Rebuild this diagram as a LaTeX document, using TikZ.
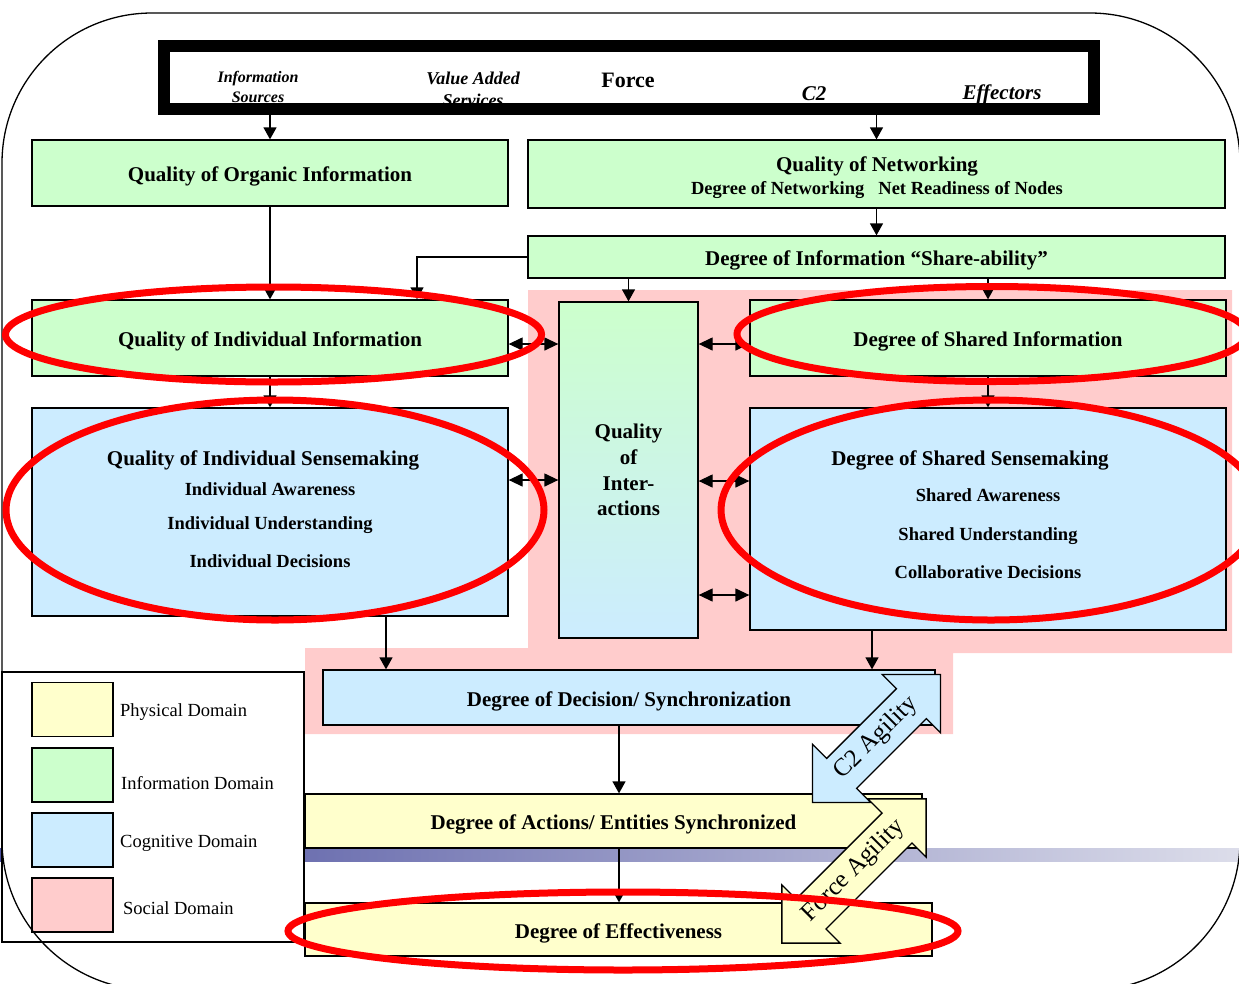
\documentclass[tikz,border=0pt]{standalone}
\usepackage{fontspec}
\setmainfont{Liberation Serif}
\usetikzlibrary{arrows.meta,shapes.arrows}

\definecolor{infogreen}{HTML}{CCFFCC}
\definecolor{cogblue}{HTML}{CCECFF}
\definecolor{physyellow}{HTML}{FFFFCC}
\definecolor{socialpink}{HTML}{FFCCCC}
\definecolor{bardark}{HTML}{4A4E9E}
\definecolor{barlight}{HTML}{DCDDEA}

\tikzset{
  box/.style={draw, line width=1.3pt, inner sep=0pt, align=center,
    font=\fontsize{21}{25.7}\selectfont\bfseries},
  linebox/.style={box, text height=18pt, text depth=1pt},
  infobox/.style={linebox, fill=infogreen},
  cogbox/.style={linebox, fill=cogblue},
  physbox/.style={linebox, fill=physyellow},
  keybox/.style={draw, line width=1.3pt, minimum width=81, minimum height=54},
  boxtitle/.style={font=\fontsize{21}{25}\selectfont\bfseries, inner sep=0pt, yshift=-2pt},
  boxsub/.style={font=\fontsize{18.5}{22}\selectfont\bfseries, inner sep=0pt, yshift=-2pt},
  keytext/.style={font=\fontsize{18.5}{22}\selectfont, anchor=west, inner sep=0pt, yshift=-2pt},
  srctext/.style={font=\bfseries\itshape, align=center, inner sep=0pt},
  flow/.style={line width=1.3pt, -{Triangle[width=13pt,length=12pt]}},
  twoway/.style={line width=1.3pt, {Triangle[width=13pt,length=14pt]}-{Triangle[width=13pt,length=14pt]}},
  agility/.style={draw, line width=1.3pt, double arrow, double arrow tip angle=90,
    double arrow head extend=20pt, rotate=45, inner xsep=0pt, inner ysep=9pt,
    text height=17pt, text depth=6pt, font=\fontsize{25}{25}\selectfont},
  ring/.style={draw=red, line width=7pt},
}

\begin{document}
\begin{tikzpicture}[x=1pt,y=-1pt]
  \clip (0,0) rectangle (1239,983);
  % social domain and the bar
  \fill[socialpink] (528,290) -- (1232,290) -- (1232,653) -- (953,653) -- (953,734)
    -- (305,734) -- (305,648) -- (528,648) -- cycle;
  \shade[left color=bardark, right color=barlight] (0,848) rectangle (1239,861);

  \node[infobox, minimum width=476, minimum height=66] (organic) at (270,173) {Quality of Organic Information};
  \node[infobox, minimum width=697, minimum height=68] (networking) at (876.5,174) {};
  \node[boxtitle] (nettitle) at (877,164) {Quality of Networking};
  \node[boxsub] (netsub) at (877,188) {Degree of Networking\hspace{14pt}Net Readiness of Nodes};
  \node[infobox, minimum width=697, minimum height=42] (share) at (876.5,257) {Degree of Information ``Share-ability''};
  \node[infobox, minimum width=476, minimum height=76] (iinfo) at (270,338) {Quality of Individual Information};
  \node[infobox, minimum width=476, minimum height=76] (sinfo) at (988,338) {Degree of Shared Information};
  \node[box, top color=infogreen, bottom color=cogblue, minimum width=139, minimum height=336] (qoi) at (628.5,470) {Quality\\of\\Inter-\\actions};

  \node[cogbox, minimum width=476, minimum height=208] (isense) at (270,512) {};
  \node[boxtitle] (isensetitle) at (263,458) {Quality of Individual Sensemaking};
  \node[boxsub] (iaware) at (270,487) {Individual Awareness};
  \node[boxsub] (iunder) at (270,523) {Individual Understanding};
  \node[boxsub] (idecide) at (270,559) {Individual Decisions};

  \node[cogbox, minimum width=476, minimum height=222] (ssense) at (988,519) {};
  \node[boxtitle] (ssensetitle) at (970,458) {Degree of Shared Sensemaking};
  \node[boxsub] (saware) at (988,493) {Shared Awareness};
  \node[boxsub] (sunder) at (988,534) {Shared Understanding};
  \node[boxsub] (sdecide) at (988,570) {Collaborative Decisions};

  \node[cogbox, minimum width=612, minimum height=55] (decision) at (629,697.5) {Degree of Decision/ Synchronization};
  \node[physbox, minimum width=617, minimum height=54] (actions) at (613.5,821) {Degree of Actions/ Entities Synchronized};
  \node[physbox, minimum width=627, minimum height=53] (effect) at (618.5,929.5) {Degree of Effectiveness};

  % legend
  \node[draw, fill=white, line width=1.3pt, minimum width=302, minimum height=270] (legend) at (153,807) {};
  \node[keybox, fill=physyellow] (physkey) at (72.5,709.5) {};
  \node[keybox, fill=infogreen] (infokey) at (72.5,775) {};
  \node[keybox, fill=cogblue] (cogkey) at (72.5,840) {};
  \node[keybox, fill=socialpink] (socialkey) at (72.5,905) {};
  \node[keytext] (physlabel) at (120,710) {Physical Domain};
  \node[keytext] (infolabel) at (121,781) {Information Domain};
  \node[keytext] (coglabel) at (120,841) {Cognitive Domain};
  \node[keytext] (sociallabel) at (123,906) {Social Domain};

  \draw[line width=1.3pt, rounded corners=150pt] (2,13) rectangle (1240,990);

  % force
  \node[srctext, font=\fontsize{16}{20}\selectfont\bfseries\itshape] (infosources) at (258,87) {Information\\Sources};
  \node[srctext, font=\fontsize{18}{22}\selectfont\bfseries\itshape] (valueadded) at (473,89) {Value Added\\Services};
  \node[srctext, font=\fontsize{22}{22}\selectfont\bfseries] (force) at (628,80) {Force};
  \node[srctext, font=\fontsize{21}{22}\selectfont\bfseries\itshape] (c2) at (814,94) {C2};
  \node[srctext, font=\fontsize{21}{22}\selectfont\bfseries\itshape] (effectors) at (1002,94) {Effectors};
  \node[draw, line width=12pt, minimum width=930, minimum height=63, inner sep=0pt] (forcebox) at (629,77.5) {};

  \draw[flow] (forcebox.south -| organic.north) -- (organic.north);
  \draw[flow] (forcebox.south -| networking.north) -- (networking.north);
  \draw[flow] (networking.south) -- (share.north);
  \draw[flow] (organic.south) -- (iinfo.north);
  \draw[flow] (share.west) -| ([xshift=147pt]iinfo.north);
  \draw[flow] (share.south -| qoi.north) -- (qoi.north);
  \draw[flow] (share.south -| sinfo.north) -- (sinfo.north);
  \draw[flow] (iinfo.south) -- (isense.north);
  \draw[flow] (sinfo.south) -- (ssense.north);
  \draw[twoway] (iinfo.east |- 0,344) -- (qoi.west |- 0,344);
  \draw[twoway] (qoi.east |- 0,344) -- (sinfo.west |- 0,344);
  \draw[twoway] (isense.east |- 0,480) -- (qoi.west |- 0,480);
  \draw[twoway] (qoi.east |- 0,481) -- (ssense.west |- 0,481);
  \draw[twoway] (qoi.east |- 0,595) -- (ssense.west |- 0,595);
  \draw[flow] (isense.south -| 386,0) -- (decision.north -| 386,0);
  \draw[flow] (ssense.south -| 872,0) -- (decision.north -| 872,0);
  \draw[flow] (decision.south -| 619,0) -- (actions.north -| 619,0);
  \draw[flow] (actions.south -| 619,0) -- (effect.north -| 619,0);

  \node[agility, fill=cogblue, minimum height=181] (c2agility) at (876.5,738.5) {C2 Agility};
  \node[agility, fill=physyellow, minimum height=204] (forceagility) at (854,871) {Force Agility};

  \draw[ring] (273.5,334.5) ellipse [x radius=268, y radius=47.5];
  \draw[ring] (992,334) ellipse [x radius=255, y radius=47.5];
  \draw[ring] (275,510) ellipse [x radius=269, y radius=110];
  \draw[ring] (991,510) ellipse [x radius=270, y radius=110];
  \draw[ring] (623,931) ellipse [x radius=335, y radius=39];
\end{tikzpicture}
\end{document}
